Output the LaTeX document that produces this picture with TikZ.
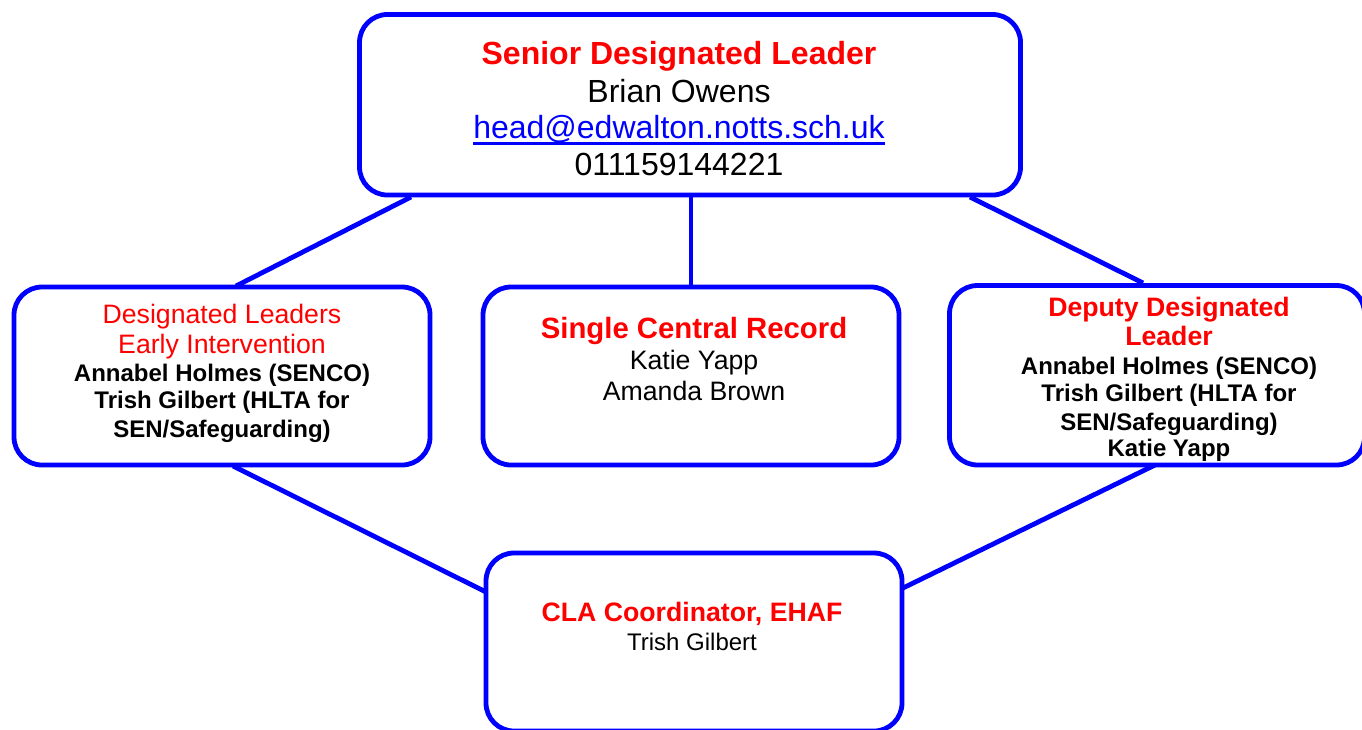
\documentclass[tikz,border=0pt]{standalone}
\usepackage{fontspec}
\setmainfont{Liberation Sans}
\definecolor{lnblue}{RGB}{0,0,255}
\definecolor{hdred}{RGB}{255,0,0}
\begin{document}
\begin{tikzpicture}[x=0.75pt,y=-0.75pt,
  box/.style={draw=lnblue, line width=3.6pt, rounded corners=21pt, inner sep=0pt,
    minimum width=312pt, minimum height=133.5pt, fill=white},
  link/.style={draw=lnblue, line width=3.6pt},
  txt/.style={anchor=base, inner sep=0pt},
  redbig/.style={txt, text=hdred, font=\bfseries\fontsize{24}{28}\selectfont},
  blkbig/.style={txt, font=\fontsize{24}{28}\selectfont},
  mailtxt/.style={txt, text=lnblue, font=\fontsize{24}{28}\selectfont},
  redtitle/.style={txt, text=hdred, font=\bfseries\fontsize{20}{24}\selectfont},
  redtitlel/.style={txt, text=hdred, font=\bfseries\fontsize{22}{26}\selectfont},
  redreg/.style={txt, text=hdred, font=\fontsize{20}{24}\selectfont},
  blkbold/.style={txt, font=\bfseries\fontsize{18}{21}\selectfont},
  blkreg/.style={txt, font=\fontsize{20}{24}\selectfont},
  blkregs/.style={txt, font=\fontsize{18}{21}\selectfont}]
\useasboundingbox (0,0) rectangle (1362,729);
\clip (0,0) rectangle (1362,729);

% connector end points
\coordinate (a1) at (411,197);
\coordinate (a2) at (236,286);
\coordinate (b1) at (691,196);
\coordinate (b2) at (691,287);
\coordinate (c1) at (970,197);
\coordinate (c2) at (1143,283);
\coordinate (d1) at (233,466);
\coordinate (d2) at (486,592);
\coordinate (e1) at (1155,465);
\coordinate (e2) at (903,588);

\draw[link] (a1) -- (a2);
\draw[link] (b1) -- (b2);
\draw[link] (c1) -- (c2);
\draw[link] (d1) -- (d2);
\draw[link] (e1) -- (e2);

% boxes
\node[box, minimum width=495.75pt, minimum height=135.4pt] (top) at (690,104.75) {};
\node[box] (left) at (222,376) {};
\node[box] (mid) at (691,376) {};
\node[box, minimum width=311.25pt, minimum height=134.6pt] (right) at (1157,375.25) {};
\node[box] (bot) at (694,642) {};

% top texts
\node[redbig] (t1) at (679,64) {Senior Designated Leader};
\node[blkbig] (t2) at (679,102) {Brian Owens};
\node[mailtxt] (t3) at (679,138) {head@edwalton.notts.sch.uk};
\draw[lnblue, line width=2pt] ([yshift=-4pt]t3.base west) -- ([yshift=-4pt]t3.base east);
\node[blkbig] (t4) at (679,175) {011159144221};

% left texts
\node[redreg] (l1) at (222,323) {Designated Leaders};
\node[redreg] (l2) at (222,353) {Early Intervention};
\node[blkbold] (l3) at (222,381) {Annabel Holmes (SENCO)};
\node[blkbold] (l4) at (222,408) {Trish Gilbert (HLTA for};
\node[blkbold] (l5) at (222,437) {SEN/Safeguarding)};

% middle texts
\node[redtitlel] (m1) at (694,338) {Single Central Record};
\node[blkreg] (m2) at (694,369) {Katie Yapp};
\node[blkreg] (m3) at (694,400) {Amanda Brown};

% right texts
\node[redtitle] (r1) at (1169,316) {Deputy Designated};
\node[redtitle] (r2) at (1169,345) {Leader};
\node[blkbold] (r3) at (1169,374) {Annabel Holmes (SENCO)};
\node[blkbold] (r4) at (1169,401) {Trish Gilbert (HLTA for};
\node[blkbold] (r5) at (1169,430) {SEN/Safeguarding)};
\node[blkbold] (r6) at (1169,456) {Katie Yapp};

% bottom texts
\node[redtitle] (b1t) at (692,621) {CLA Coordinator, EHAF};
\node[blkregs] (b2t) at (692,650) {Trish Gilbert};
\end{tikzpicture}
\end{document}
